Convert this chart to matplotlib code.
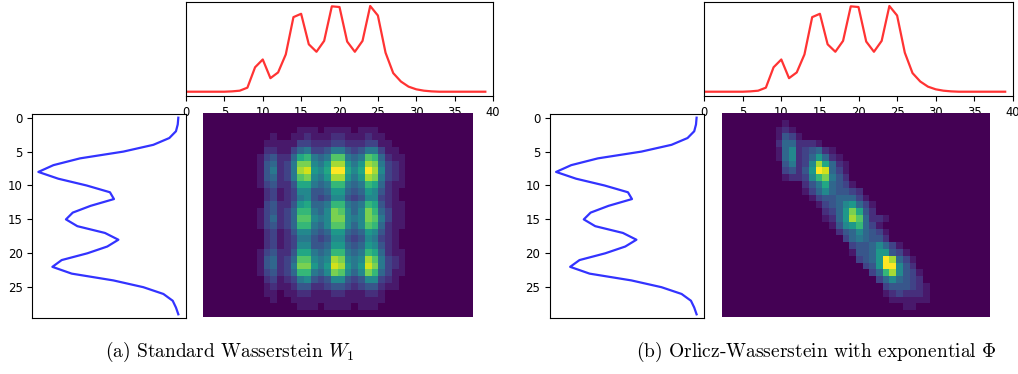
import numpy as np
import matplotlib
matplotlib.use("Agg")
import matplotlib.pyplot as plt

plt.rcParams["mathtext.fontset"] = "cm"

# marginal on the x axis (40 bins)
top_marginal = [0, 0, 0, 0, 0, 0, 0.004, 0.012, 0.047, 0.285,
                0.376, 0.158, 0.225, 0.435, 0.870, 0.909, 0.553, 0.466, 0.593, 0.996,
                0.988, 0.585, 0.466, 0.593, 1.000, 0.889, 0.455, 0.217, 0.119, 0.059,
                0.028, 0.012, 0.004, 0, 0, 0, 0, 0, 0, 0]

# marginal on the y axis (30 bins)
left_marginal = [0.052, 0.056, 0.068, 0.113, 0.221, 0.424, 0.718, 0.898, 1.0, 0.865,
                 0.673, 0.515, 0.488, 0.646, 0.767, 0.813, 0.736, 0.549, 0.458, 0.533,
                 0.668, 0.842, 0.905, 0.774, 0.492, 0.289, 0.153, 0.090, 0.068, 0.052]

# coupling (a), hex levels 0..f, columns 7..31 of each row
plan_a_start = 7
plan_a_rows = [
    "0000000000000000000000000",
    "0000000000000000000000000",
    "0000000111011110111000000",
    "0001001121112211121100000",
    "0011111332223322233110000",
    "0022113563346643466311000",
    "01342259a656bb656ba521100",
    "0145236cc768dd868dc632100",
    "0146236de879ff979fd732100",
    "0145236bc768dd868dc632100",
    "013422499656aa656a9521100",
    "0023123774458854587421000",
    "0023123674347743477321000",
    "003422489556aa656a9421100",
    "0134235aa657cb757ca531100",
    "0135235bb767cc767cb631100",
    "0134235aa657bb757ba521100",
    "0023124775458854587421000",
    "0023123664347743476321000",
    "0023123774458854587421000",
    "013422499656aa656a9521100",
    "0145235bb767dc767db632100",
    "0145236cc868ed868ec632100",
    "0134235aa657cb757ca531100",
    "0023123674347743477321000",
    "0012112442234432344211000",
    "0011011221112211122100000",
    "0001001111111111111100000",
    "0000000111011110111000000",
    "0000000000000000000000000",
]

# coupling (b), hex levels 0..f, (first column, values) per row
plan_b_rows = [
    (0, "0"), (9, "1"), (8, "121"), (8, "1431"), (8, "2552221"),
    (8, "157234521"), (8, "1572358521"), (9, "46237d9521"), (9, "34248fe531"), (9, "12237ac642"),
    (12, "24695431"), (12, "135754432"), (13, "134455531"), (14, "134578531"), (15, "2358c942"),
    (15, "1258db5221"), (16, "1478a531"), (17, "24575431"), (18, "3565442"), (19, "34457531"),
    (19, "144588431"), (20, "3458fd531"), (21, "348ff742"), (22, "35ad7431"), (23, "3575432"),
    (24, "3444321"), (24, "1232221"), (25, "111111"), (27, "11"), (0, "0"),
]

captions = ["(a) Standard Wasserstein $W_1$",
            "(b) Orlicz-Wasserstein with exponential $\\Phi$"]

grid_a = np.zeros((30, 40))
for r, s in enumerate(plan_a_rows):
    grid_a[r, plan_a_start:plan_a_start + len(s)] = [int(ch, 16) for ch in s]
grid_b = np.zeros((30, 40))
for r, (c0, s) in enumerate(plan_b_rows):
    grid_b[r, c0:c0 + len(s)] = [int(ch, 16) for ch in s]

W, H = 1018, 374


def box(x0, y0, x1, y1):
    # pixel box -> figure fraction
    return [x0 / W, 1 - y1 / H, (x1 - x0) / W, (y1 - y0) / H]


fig = plt.figure(figsize=(W / 100, H / 100), dpi=100)

panels = [
    dict(top=box(186, 1.7, 493, 96), left=box(32.3, 114.3, 186, 317.7),
         img=box(203.3, 113.3, 473.3, 317.3), grid=grid_a, cap_x=230),
    dict(top=box(704.1, 1.7, 1012.9, 96), left=box(550, 114.3, 704.3, 317.7),
         img=box(721.7, 113.3, 989, 317.3), grid=grid_b, cap_x=816),
]

for p, cap in zip(panels, captions):
    ax_top = fig.add_axes(p["top"])
    ax_top.plot(np.arange(len(top_marginal)), top_marginal, color="r", alpha=0.8, lw=1.6)
    ax_top.set_xlim(0, 40)
    ax_top.set_yticks([])
    ax_top.tick_params(labelsize=8.3)

    ax_left = fig.add_axes(p["left"])
    ax_left.plot(left_marginal, np.arange(len(left_marginal)), color="b", alpha=0.8, lw=1.6)
    ax_left.set_xlim(1.041, 0)
    ax_left.set_ylim(29.5, -0.5)
    ax_left.set_xticks([])
    ax_left.set_yticks([0, 5, 10, 15, 20, 25])
    ax_left.tick_params(labelsize=8.5)

    ax_img = fig.add_axes(p["img"])
    ax_img.imshow(p["grid"] / 15, cmap="viridis", vmin=0, vmax=1,
                  aspect="auto", interpolation="nearest")
    ax_img.axis("off")

    fig.text(p["cap_x"] / W, 1 - 352 / H, cap, ha="center", va="center",
             family="cmr10", fontsize=14)

fig.savefig("out.png", dpi=100)
